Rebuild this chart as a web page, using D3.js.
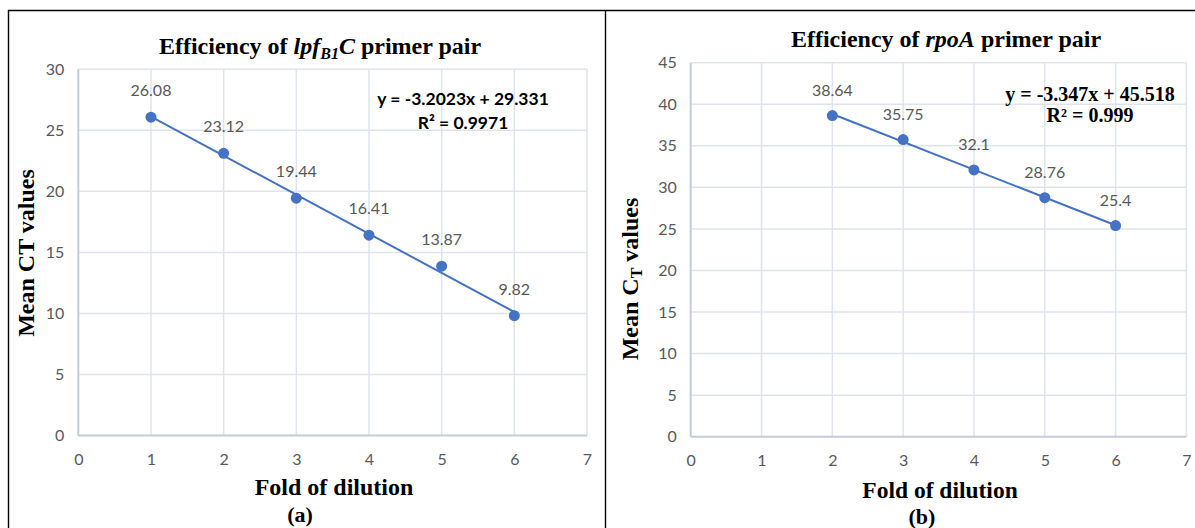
<!DOCTYPE html>
<html>
<head>
<meta charset="utf-8">
<script src="https://cdn.jsdelivr.net/npm/d3@7"></script>
<style>
  html, body { margin: 0; padding: 0; background: #fff; }
  svg { display: block; }
</style>
</head>
<body>
<svg id="chart" width="1195" height="528"></svg>
<script>
// ---------- data ----------
const dilutionA = [1, 2, 3, 4, 5, 6];
const ctA = [26.08, 23.12, 19.44, 16.41, 13.87, 9.82];
const trendA = [-3.2023, 29.331];          // slope, intercept
const eqA = ["y = -3.2023x + 29.331", "R² = 0.9971"];

const dilutionB = [2, 3, 4, 5, 6];
const ctB = [38.64, 35.75, 32.1, 28.76, 25.4];
const trendB = [-3.347, 45.518];
const eqB = ["y = -3.347x + 45.518", "R² = 0.999"];

const xTicks = [0, 1, 2, 3, 4, 5, 6, 7];
const yTicksA = [0, 5, 10, 15, 20, 25, 30];
const yTicksB = [0, 5, 10, 15, 20, 25, 30, 35, 40, 45];

// ---------- styles ----------
const BLUE = "#4472C4";
const GRID = "#dfe3eb";
const AXIS = "#c3cbdb";
const TICK = "#595959";
const SANS = "Lato, 'Open Sans', sans-serif";
const SERIF = "'Liberation Serif', 'Times New Roman', serif";

const svg = d3.select("#chart");
svg.append("rect").attr("width", 1195).attr("height", 528).attr("fill", "#fff");

// panel borders
const border = svg.append("g").attr("stroke", "#000").attr("stroke-width", 1.4).attr("fill", "none");
border.append("line").attr("x1", 8).attr("x2", 1195).attr("y1", 10.5).attr("y2", 10.5);
border.append("line").attr("x1", 8.5).attr("x2", 8.5).attr("y1", 10).attr("y2", 528);
border.append("line").attr("x1", 605.5).attr("x2", 605.5).attr("y1", 10).attr("y2", 528);

function drawPanel(cfg) {
  const g = svg.append("g");
  const x = d3.scaleLinear().domain([0, 7]).range(cfg.xr);
  const y = d3.scaleLinear().domain(cfg.yd).range(cfg.yr);

  // gridlines
  g.append("g").selectAll("line.h").data(cfg.yTicks.filter(v => v > 0)).join("line")
    .attr("x1", x(0)).attr("x2", x(7))
    .attr("y1", d => y(d)).attr("y2", d => y(d))
    .attr("stroke", GRID).attr("stroke-width", 1.5);
  g.append("g").selectAll("line.v").data(xTicks.filter(v => v > 0)).join("line")
    .attr("x1", d => x(d)).attr("x2", d => x(d))
    .attr("y1", y(cfg.yd[1])).attr("y2", y(0))
    .attr("stroke", GRID).attr("stroke-width", 1.5);

  // axes lines
  g.append("line").attr("x1", x(0)).attr("x2", x(0)).attr("y1", y(cfg.yd[1])).attr("y2", y(0))
    .attr("stroke", AXIS).attr("stroke-width", 2);
  g.append("line").attr("x1", x(0)).attr("x2", x(7)).attr("y1", y(0)).attr("y2", y(0))
    .attr("stroke", AXIS).attr("stroke-width", 2);

  // tick labels via d3 axes
  const yAxis = g.append("g").attr("transform", `translate(${x(0)},0)`)
    .call(d3.axisLeft(y).tickValues(cfg.yTicks).tickFormat(d3.format("d")).tickSize(0).tickPadding(14));
  const xAxis = g.append("g").attr("transform", `translate(0,${y(0)})`)
    .call(d3.axisBottom(x).tickValues(xTicks).tickFormat(d3.format("d")).tickSize(0).tickPadding(cfg.xPad));
  [yAxis, xAxis].forEach(a => {
    a.select(".domain").remove();
    a.selectAll("text").attr("fill", TICK).style("font-family", SANS).style("font-size", "16px");
  });

  // trendline
  const [m, b] = cfg.trend;
  const x0 = d3.min(cfg.xs), x1 = d3.max(cfg.xs);
  g.append("path")
    .attr("d", d3.line().x(d => x(d)).y(d => y(m * d + b))([x0, x1]))
    .attr("stroke", BLUE).attr("stroke-width", 2).attr("fill", "none");

  // points
  const pts = cfg.xs.map((v, i) => [v, cfg.ys[i]]);
  g.append("g").selectAll("circle").data(pts).join("circle")
    .attr("cx", d => x(d[0])).attr("cy", d => y(d[1])).attr("r", 5.5)
    .attr("fill", BLUE);

  // data labels
  g.append("g").selectAll("text").data(pts).join("text")
    .attr("x", d => x(d[0])).attr("y", d => y(d[1]) - cfg.labOff)
    .attr("text-anchor", "middle").attr("fill", TICK)
    .style("font-family", SANS).style("font-size", "16px")
    .text(d => d[1]);

  // equation
  const eq = g.append("g").attr("text-anchor", "middle").attr("fill", "#000")
    .style("font-family", cfg.eqFont).style("font-size", cfg.eqSize).style("font-weight", "bold");
  cfg.eq.forEach((t, i) => {
    eq.append("text").attr("x", cfg.eqPos[0]).attr("y", cfg.eqPos[1] + i * cfg.eqGap).text(t);
  });

  return { x, y, g };
}

// ---------- panel (a) ----------
drawPanel({
  xr: [78.3, 587], yd: [0, 30], yr: [435.5, 69.3], yTicks: yTicksA, xPad: 18,
  xs: dilutionA, ys: ctA, trend: trendA, labOff: 21,
  eq: eqA, eqFont: SANS, eqSize: "17.5px", eqPos: [463, 105], eqGap: 24
});

// ---------- panel (b) ----------
drawPanel({
  xr: [690.7, 1186.4], yd: [0, 45], yr: [436.7, 62.7], yTicks: yTicksB, xPad: 18,
  xs: dilutionB, ys: ctB, trend: trendB, labOff: 20,
  eq: eqB, eqFont: SERIF, eqSize: "20px", eqPos: [1090, 101], eqGap: 21
});

// ---------- titles ----------
const tA = svg.append("text").attr("x", 320).attr("y", 54).attr("text-anchor", "middle")
  .style("font-family", SERIF).style("font-weight", "bold").style("font-size", "24px");
tA.append("tspan").text("Efficiency of ");
tA.append("tspan").style("font-style", "italic").text("lpf");
tA.append("tspan").style("font-style", "italic").style("font-size", "16px").attr("dy", 5).text("B1");
tA.append("tspan").style("font-style", "italic").attr("dy", -5).text("C");
tA.append("tspan").text(" primer pair");

const tB = svg.append("text").attr("x", 946).attr("y", 47).attr("text-anchor", "middle")
  .style("font-family", SERIF).style("font-weight", "bold").style("font-size", "24px");
tB.append("tspan").text("Efficiency of ");
tB.append("tspan").style("font-style", "italic").text("rpoA");
tB.append("tspan").text(" primer pair");

// ---------- axis titles ----------
function serifText(x, y, txt, size) {
  return svg.append("text").attr("x", x).attr("y", y).attr("text-anchor", "middle")
    .style("font-family", SERIF).style("font-weight", "bold").style("font-size", size).text(txt);
}
serifText(334, 495, "Fold of dilution", "24px");
serifText(300, 522, "(a)", "22px");
serifText(940, 498, "Fold of dilution", "23.5px");
serifText(922, 524, "(b)", "22px");

svg.append("text").attr("transform", "translate(34,253) rotate(-90)").attr("text-anchor", "middle")
  .style("font-family", SERIF).style("font-weight", "bold").style("font-size", "24px")
  .text("Mean CT values");

const yb = svg.append("text").attr("transform", "translate(638,279) rotate(-90)").attr("text-anchor", "middle")
  .style("font-family", SERIF).style("font-weight", "bold").style("font-size", "24px");
yb.append("tspan").text("Mean C");
yb.append("tspan").style("font-size", "16px").attr("dy", 4).text("T");
yb.append("tspan").attr("dy", -4).text(" values");
</script>
</body>
</html>
